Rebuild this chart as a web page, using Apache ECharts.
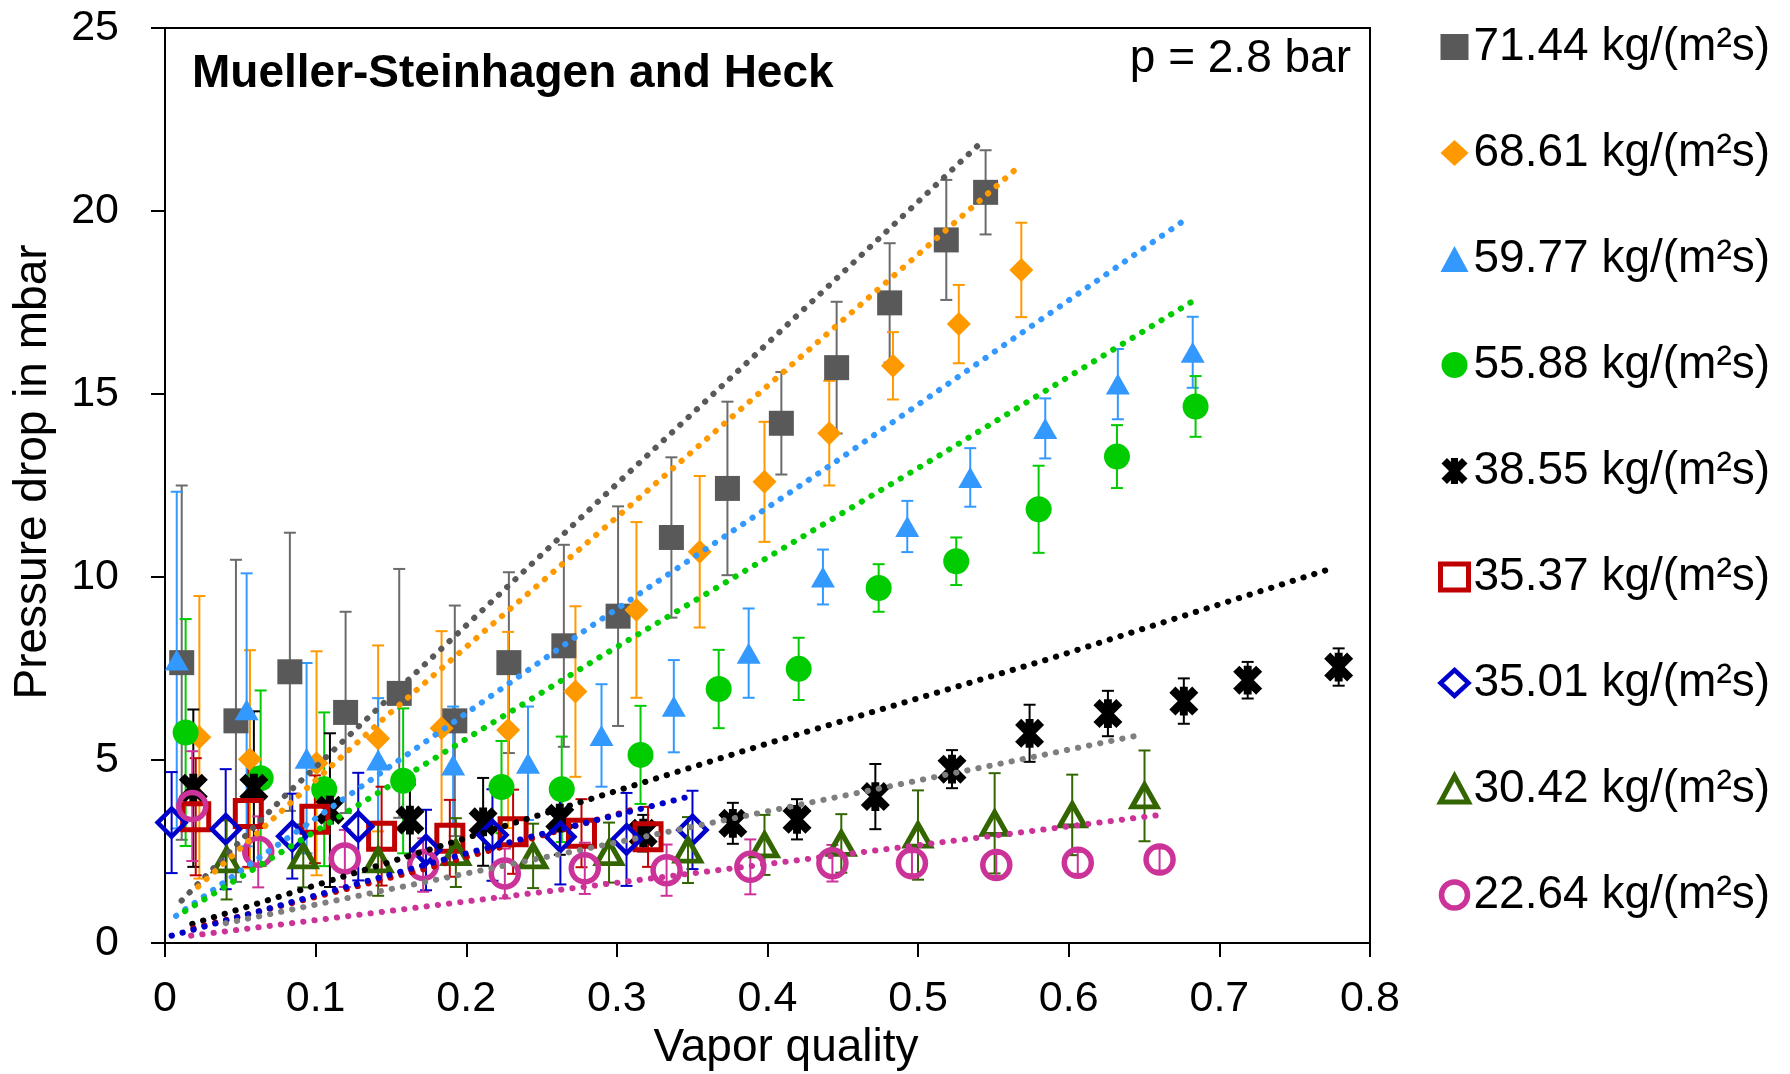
<!DOCTYPE html>
<html>
<head>
<meta charset="utf-8">
<script src="https://cdn.jsdelivr.net/npm/echarts@6/dist/echarts.min.js"></script>
<style>
  html, body { margin: 0; padding: 0; background: #fff; }
  #chart { width: 1790px; height: 1074px; }
</style>
</head>
<body>
<div id="chart"></div>
<script>
// measured series: vapor quality, pressure drop (mbar), error (+/-)
const g71x = [0.0111, 0.0471, 0.0829, 0.1199, 0.1555, 0.1924, 0.2283, 0.2648, 0.3008, 0.3362, 0.3734, 0.4092, 0.4459, 0.4811, 0.5187, 0.5448];
const g71y = [7.66, 6.07, 7.41, 6.30, 6.82, 6.07, 7.66, 8.12, 8.93, 11.08, 12.42, 14.20, 15.72, 17.49, 19.21, 20.51];
const g71e = [4.84, 4.40, 3.80, 2.75, 3.40, 3.15, 2.47, 2.76, 3.00, 2.19, 2.37, 1.40, 1.80, 1.63, 1.64, 1.15];

const g68x = [0.0228, 0.0564, 0.1006, 0.1415, 0.1836, 0.2278, 0.2725, 0.313, 0.355, 0.398, 0.441, 0.4833, 0.527, 0.5685];
const g68y = [5.62, 5.02, 4.91, 5.59, 5.87, 5.82, 6.87, 9.10, 10.69, 12.60, 13.93, 15.77, 16.91, 18.39];
const g68e = [3.86, 2.98, 3.06, 2.54, 2.65, 2.68, 2.33, 2.40, 2.07, 1.64, 1.43, 0.92, 1.07, 1.29];

const g59x = [0.0078, 0.0542, 0.094, 0.1415, 0.1913, 0.241, 0.2898, 0.3378, 0.3875, 0.4368, 0.4928, 0.5346, 0.5844, 0.6326, 0.6823];
const g59y = [7.73, 6.37, 5.05, 5.00, 4.86, 4.91, 5.67, 6.47, 7.92, 10.00, 11.38, 12.72, 14.06, 15.27, 16.14];
const g59e = [4.60, 3.73, 2.60, 1.69, 1.60, 1.55, 1.40, 1.26, 1.22, 0.75, 0.70, 0.80, 0.82, 0.96, 0.97];

const g55x = [0.0137, 0.0635, 0.1057, 0.1581, 0.2234, 0.2634, 0.3157, 0.3676, 0.4207, 0.4738, 0.5253, 0.58, 0.632, 0.6842];
const g55y = [5.75, 4.50, 4.20, 4.43, 4.26, 4.20, 5.14, 6.94, 7.49, 9.70, 10.43, 11.85, 13.29, 14.66];
const g55e = [3.10, 2.40, 2.10, 1.98, 1.26, 1.44, 1.34, 1.07, 0.85, 0.65, 0.65, 1.19, 0.86, 0.83];

const g38x = [0.0188, 0.059, 0.1095, 0.1626, 0.2112, 0.2621, 0.3175, 0.377, 0.4196, 0.4716, 0.5225, 0.574, 0.626, 0.6764, 0.7188, 0.7792];
const g38y = [4.23, 4.23, 3.63, 3.36, 3.31, 3.41, 3.00, 3.27, 3.38, 4.00, 4.75, 5.73, 6.27, 6.61, 7.18, 7.54];
const g38e = [2.15, 2.10, 2.10, 0.97, 1.20, 1.00, 0.50, 0.56, 0.55, 0.89, 0.52, 0.78, 0.62, 0.62, 0.50, 0.51];

const g35rx = [0.0204, 0.0553, 0.0995, 0.1438, 0.1891, 0.2311, 0.2765, 0.3207];
const g35ry = [3.45, 3.54, 3.38, 2.92, 2.86, 3.04, 3.00, 2.90];
const g35re = [1.60, 1.46, 1.20, 1.35, 1.05, 1.15, 0.93, 0.82];

const g35bx = [0.0044, 0.0403, 0.0845, 0.1283, 0.1733, 0.2174, 0.2625, 0.3064, 0.3502];
const g35by = [3.29, 3.11, 2.92, 3.18, 2.54, 2.95, 2.90, 2.83, 3.09];
const g35be = [1.38, 1.64, 1.16, 1.47, 1.10, 1.25, 1.30, 1.27, 1.07];

const g30x = [0.0409, 0.0918, 0.1415, 0.1931, 0.2444, 0.2948, 0.3472, 0.398, 0.449, 0.4999, 0.5508, 0.6023, 0.6503];
const g30y = [2.27, 2.38, 2.27, 2.47, 2.38, 2.47, 2.54, 2.68, 2.72, 2.95, 3.27, 3.50, 4.02];
const g30e = [1.08, 0.86, 0.98, 0.94, 0.88, 0.82, 0.90, 0.82, 0.80, 1.22, 1.37, 1.10, 1.24];

const g22x = [0.0181, 0.0619, 0.1194, 0.1714, 0.2256, 0.2787, 0.333, 0.3886, 0.4431, 0.4959, 0.5519, 0.606, 0.6603];
const g22y = [3.74, 2.49, 2.31, 2.13, 1.90, 2.04, 1.99, 2.08, 2.18, 2.18, 2.13, 2.19, 2.28];
const g22e = [1.50, 0.97, 0.78, 0.73, 0.68, 0.70, 0.70, 0.75, 0.50, 0.30, 0.30, 0.30, 0.30];

// Mueller-Steinhagen and Heck predictions (dotted lines)
const t71x = [0.011, 0.0796, 0.3079, 0.387, 0.5441];
const t71y = [1.16, 4.02, 12.85, 15.88, 21.96];
const t68x = [0.022, 0.146, 0.2123, 0.3086, 0.5673];
const t68y = [1.54, 6.16, 8.53, 11.94, 21.23];
const t59x = [0.0073, 0.2809, 0.4435, 0.68];
const t59y = [0.74, 8.60, 13.10, 19.84];
const t55x = [0.0133, 0.2886, 0.5165, 0.6845];
const t55y = [0.87, 7.81, 13.38, 17.59];
const t38x = [0.0181, 0.4015, 0.5861, 0.775];
const t38y = [0.52, 5.47, 7.75, 10.24];
const t35rx = [0.0188, 0.174, 0.3108];
const t35ry = [0.40, 2.04, 3.65];
const t35bx = [0.0044, 0.2045, 0.345];
const t35by = [0.20, 2.50, 3.97];
const t30x = [0.0403, 0.366, 0.646];
const t30y = [0.54, 3.31, 5.67];
const t22x = [0.0173, 0.4257, 0.659];
const t22y = [0.20, 2.29, 3.49];

const xTicks = [0, 0.1, 0.2, 0.3, 0.4, 0.5, 0.6, 0.7, 0.8];
const yTicks = [0, 5, 10, 15, 20, 25];

const FONT = '"Liberation Sans", Arial, sans-serif';
const ASTERISK = 'path://M39,10L61,10L61,90L39,90Z M26.7,9.7L90.3,73.3L73.3,90.3L9.7,26.7Z M9.7,73.3L73.3,9.7L90.3,26.7L26.7,90.3Z';

const groups = [
  { name: '71.44 kg/(m²s)', x: g71x, y: g71y, e: g71e, tx: t71x, ty: t71y, color: '#595959', bar: '#6b6b6b', line: '#595959',
    symbol: 'rect', size: 25 },
  { name: '68.61 kg/(m²s)', x: g68x, y: g68y, e: g68e, tx: t68x, ty: t68y, color: '#ff9900', bar: '#ff9900', line: '#ff9900',
    symbol: 'diamond', size: 24 },
  { name: '59.77 kg/(m²s)', x: g59x, y: g59y, e: g59e, tx: t59x, ty: t59y, color: '#3399ff', bar: '#3399ff', line: '#3399ff',
    symbol: 'triangle', size: [24, 21] },
  { name: '55.88 kg/(m²s)', x: g55x, y: g55y, e: g55e, tx: t55x, ty: t55y, color: '#00cc00', bar: '#00cc00', line: '#00cc00',
    symbol: 'circle', size: 26 },
  { name: '38.55 kg/(m²s)', x: g38x, y: g38y, e: g38e, tx: t38x, ty: t38y, color: '#000000', bar: '#000000', line: '#000000',
    symbol: ASTERISK, size: 29 },
  { name: '35.37 kg/(m²s)', x: g35rx, y: g35ry, e: g35re, tx: t35rx, ty: t35ry, color: '#c00000', bar: '#c00000', line: '#c00000',
    symbol: 'rect', size: 26, hollow: 5 },
  { name: '35.01 kg/(m²s)', x: g35bx, y: g35by, e: g35be, tx: t35bx, ty: t35by, color: '#0000cc', bar: '#0000cc', line: '#0000cc',
    symbol: 'diamond', size: 28, hollow: 4.5 },
  { name: '30.42 kg/(m²s)', x: g30x, y: g30y, e: g30e, tx: t30x, ty: t30y, color: '#336600', bar: '#336600', line: '#7f7f7f',
    symbol: 'triangle', size: [25, 22], hollow: 5 },
  { name: '22.64 kg/(m²s)', x: g22x, y: g22y, e: g22e, tx: t22x, ty: t22y, color: '#cc3399', bar: '#cc3399', line: '#cc3399',
    symbol: 'circle', size: 27, hollow: 5.5 }
];

function errorBars(gr) {
  return {
    type: 'custom',
    name: 'err ' + gr.name,
    silent: true,
    data: gr.x.map((x, i) => [x, gr.y[i] - gr.e[i], gr.y[i] + gr.e[i]]),
    encode: { x: 0, y: [1, 2] },
    renderItem: (params, api) => {
      const lo = api.coord([api.value(0), api.value(1)]);
      const hi = api.coord([api.value(0), api.value(2)]);
      const w = 6;
      const st = { stroke: gr.bar, lineWidth: 2 };
      return {
        type: 'group',
        children: [
          { type: 'line', shape: { x1: lo[0], y1: lo[1], x2: hi[0], y2: hi[1] }, style: st },
          { type: 'line', shape: { x1: lo[0] - w, y1: lo[1], x2: lo[0] + w, y2: lo[1] }, style: st },
          { type: 'line', shape: { x1: hi[0] - w, y1: hi[1], x2: hi[0] + w, y2: hi[1] }, style: st }
        ]
      };
    }
  };
}

function markers(gr) {
  const itemStyle = gr.hollow
    ? { color: 'rgba(255,255,255,0)', borderColor: gr.color, borderWidth: gr.hollow, opacity: 1 }
    : { color: gr.color, opacity: 1 };
  return {
    type: 'scatter',
    name: gr.name,
    symbol: gr.symbol,
    symbolSize: gr.size,
    itemStyle: itemStyle,
    data: gr.x.map((x, i) => [x, gr.y[i]])
  };
}

function trend(gr) {
  return {
    type: 'line',
    name: 'MSH ' + gr.name,
    silent: true,
    showSymbol: false,
    symbol: 'none',
    z: 5,
    lineStyle: { color: gr.line, width: 6, type: [0.3, 11], cap: 'round' },
    data: gr.tx.map((x, i) => [x, gr.ty[i]])
  };
}

const series = [];
groups.forEach(gr => { series.push(errorBars(gr)); series.push(markers(gr)); });
groups.forEach(gr => series.push(trend(gr)));

const chart = echarts.init(document.getElementById('chart'));
chart.setOption({
  animation: false,
  backgroundColor: '#ffffff',
  textStyle: { fontFamily: FONT },
  title: {
    text: 'Mueller-Steinhagen and Heck',
    left: 192,
    top: 51,
    padding: 0,
    textStyle: { fontFamily: FONT, fontWeight: 'bold', fontSize: 46, color: '#000' }
  },
  graphic: [
    {
      type: 'text',
      right: 439,
      top: 36,
      z: 10,
      style: { text: 'p = 2.8 bar', font: '46px "Liberation Sans", Arial, sans-serif', fill: '#000' }
    },
    {
      type: 'text',
      x: 786, y: 1048,
      z: 10,
      style: { text: 'Vapor quality', font: '46px "Liberation Sans", Arial, sans-serif', fill: '#000',
        textAlign: 'center', textVerticalAlign: 'middle' }
    },
    {
      type: 'text',
      x: 33, y: 472,
      rotation: Math.PI / 2,
      z: 10,
      style: { text: 'Pressure drop in mbar', font: '46px "Liberation Sans", Arial, sans-serif', fill: '#000',
        textAlign: 'center', textVerticalAlign: 'middle' }
    }
  ],
  legend: {
    orient: 'vertical',
    left: 1438,
    top: 22,
    itemWidth: 28,
    itemHeight: 26,
    itemGap: 56,
    padding: 0,
    data: groups.map(g => g.name),
    itemStyle: { borderWidth: 'inherit' },
    textStyle: { fontFamily: FONT, fontSize: 46, color: '#000', lineHeight: 50 }
  },
  grid: {
    left: 165, right: 420, top: 28, bottom: 131,
    show: true, borderColor: '#000', borderWidth: 2, backgroundColor: 'transparent'
  },
  xAxis: {
    type: 'value',
    min: xTicks[0], max: xTicks[xTicks.length - 1], interval: 0.1,
    axisLine: { lineStyle: { color: '#000', width: 2 } },
    axisTick: { show: true, length: 14, lineStyle: { color: '#000', width: 2 } },
    axisLabel: { fontFamily: FONT, fontSize: 43, color: '#000', margin: 35,
      formatter: v => (Math.round(v * 10) / 10).toString() },
    splitLine: { show: false }
  },
  yAxis: {
    type: 'value',
    min: yTicks[0], max: yTicks[yTicks.length - 1], interval: 5,
    axisLine: { lineStyle: { color: '#000', width: 2 } },
    axisTick: { show: true, length: 14, lineStyle: { color: '#000', width: 2 } },
    axisLabel: { fontFamily: FONT, fontSize: 43, color: '#000', margin: 46 },
    splitLine: { show: false }
  },
  series: series
});
</script>
</body>
</html>
